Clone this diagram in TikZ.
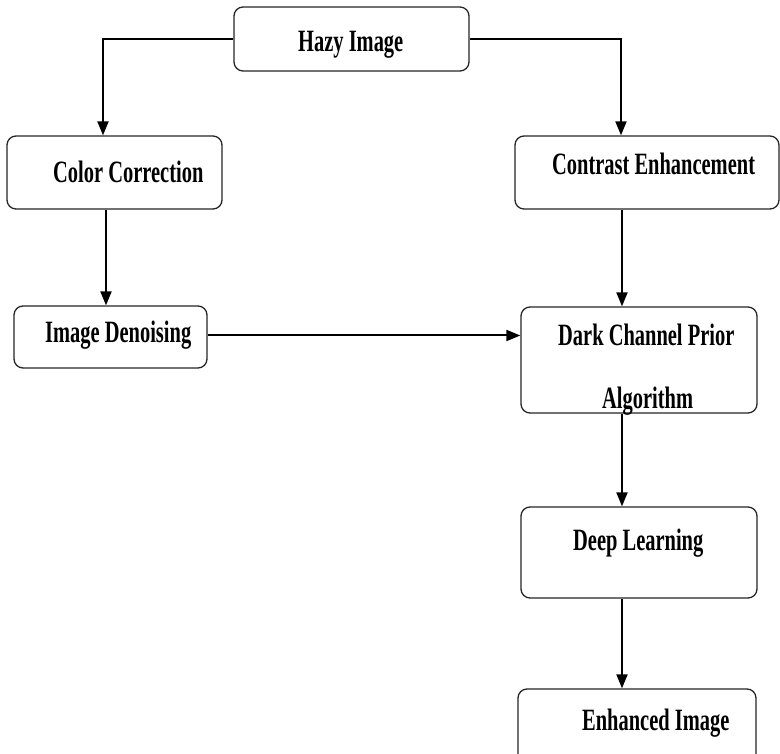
\documentclass[tikz,border=0pt]{standalone}
\usepackage{fontspec}
\setmainfont{Liberation Serif}[FakeStretch=0.66]
\usetikzlibrary{arrows.meta}

\tikzset{
  stage/.style={draw=black!85, line width=1.3pt, rounded corners=9pt,
    fill=white, inner sep=0pt},
  caption/.style={inner sep=0pt, anchor=base west,
    font=\fontsize{31}{37}\selectfont\bfseries},
  flow/.style={line width=2pt, -{Triangle[length=14pt,width=11pt]}}
}

\begin{document}
\begin{tikzpicture}[x=1pt, y=-1pt]
  \useasboundingbox (0,0) rectangle (780,754);
  \fill[white] (0,0) rectangle (780,754);
  \clip (0,0) rectangle (780,754);

  % process boxes
  \node[stage, minimum width=235pt, minimum height=64pt] (hazy) at (351.5,39) {};
  \node[stage, minimum width=215pt, minimum height=73pt] (color) at (114.5,172.5) {};
  \node[stage, minimum width=264pt, minimum height=73pt] (contrast) at (647,172.5) {};
  \node[stage, minimum width=193pt, minimum height=62pt] (denoise) at (110.5,337) {};
  \node[stage, minimum width=236pt, minimum height=106pt] (dcp) at (639,360) {};
  \node[stage, minimum width=236pt, minimum height=91pt] (deep) at (639,552.5) {};
  \node[stage, minimum width=238pt, minimum height=81pt] (enh) at (637,729.5) {};

  % captions
  \node[caption] (thazy) at (298,52) {Hazy Image};
  \node[caption] (tcolor) at (53,183) {Color Correction};
  \node[caption] (tcontrast) at (552,175) {Contrast Enhancement};
  \node[caption] (tdenoise) at (45,343) {Image Denoising};
  \node[caption] (tdcp1) at (558,346) {Dark Channel Prior};
  \node[caption] (tdcp2) at (602,408) {Algorithm};
  \node[caption] (tdeep) at (573,550) {Deep Learning};
  \node[caption] (tenh) at (582,730) {Enhanced Image};

  % columns used by the vertical connectors
  \coordinate (lcol) at (103,0);
  \coordinate (lcol2) at (106,0);
  \coordinate (rcol) at (621,0);
  \coordinate (rcol2) at (622,0);

  % connectors
  \draw[flow] (hazy.west) -| (color.north -| lcol);
  \draw[flow] (hazy.east) -| (contrast.north -| rcol);
  \draw[flow] (color.south -| lcol2) -- (denoise.north -| lcol2);
  \draw[flow] (contrast.south -| rcol2) -- (dcp.north -| rcol2);
  \draw[flow] ([yshift=1.5pt]denoise.east) -- ([yshift=1.5pt]denoise.east -| dcp.west);
  \draw[flow] (dcp.south -| rcol2) -- (deep.north -| rcol2);
  \draw[flow] (deep.south -| rcol2) -- (enh.north -| rcol2);
\end{tikzpicture}
\end{document}
